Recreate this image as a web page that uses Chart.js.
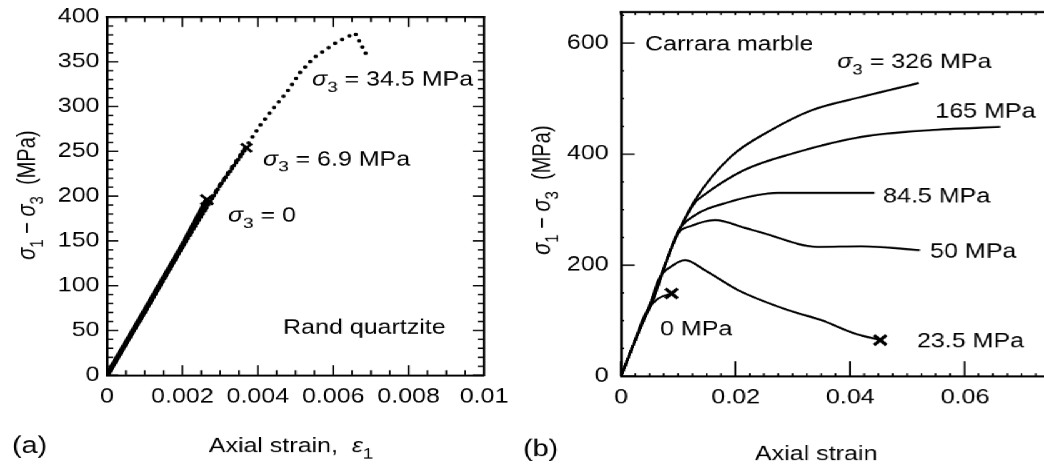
<!DOCTYPE html>
<html>
<head>
<meta charset="utf-8">
<script src="https://cdn.jsdelivr.net/npm/chart.js@4.4.1/dist/chart.umd.min.js"></script>
<style>
    html, body { margin: 0; padding: 0; background: #fff; overflow: hidden; }
    #stretch { position: absolute; left: 0; top: 0; width: 846px; height: 469px; transform: scaleX(1.25); transform-origin: 0 0; }
    #chart-a, #over-a { position: absolute; left: 0; top: 0; }
    #chart-b, #over-b { position: absolute; left: 416px; top: 0; }
    #over-a, #over-b { pointer-events: none; }
</style>
</head>
<body>
<div id="stretch">
    <canvas id="chart-a" width="416" height="469"></canvas>
    <canvas id="chart-b" width="430" height="469"></canvas>
    <canvas id="over-a"></canvas>
    <canvas id="over-b"></canvas>
</div>
<script>
const FONT = '"Liberation Sans", Arial, sans-serif';
const INK = '#000';
const RATIO = 1.25;

// (a) Rand quartzite
const quartzite0Strain = [0, 0.001, 0.002, 0.00265];
const quartzite0Stress = [0, 72, 145, 196];
const quartzite69Strain = [0, 0.001, 0.002, 0.003, 0.0037];
const quartzite69Stress = [0, 70, 143, 212, 254];
const quartzite345Strain = [0, 0.001, 0.002, 0.003, 0.0037, 0.00406, 0.00441, 0.00477, 0.00512, 0.00547, 0.00609, 0.00658, 0.00689];
const quartzite345Stress = [0, 71, 144, 213, 256, 279, 298, 316, 338, 354, 372, 382, 357];
const quartziteStrainTicks = ['0', '0.002', '0.004', '0.006', '0.008', '0.01'];
const quartziteStressTicks = ['0', '50', '100', '150', '200', '250', '300', '350', '400'];

// (b) Carrara marble
const marble0Strain = [0, 0.002, 0.0039, 0.0048, 0.0065, 0.0088];
const marble0Stress = [0, 53, 105, 122, 140, 149];
const marble235Strain = [0, 0.002, 0.0042, 0.0048, 0.0065, 0.0091, 0.0112, 0.0146, 0.0204, 0.0291, 0.0349, 0.0407, 0.0452];
const marble235Stress = [0, 53, 107, 119, 173, 200, 209, 191, 155, 119, 101, 77, 65];
const marble50Strain = [0, 0.002, 0.0042, 0.00535, 0.0082, 0.01, 0.0121, 0.0164, 0.0216, 0.0244, 0.0344, 0.0419, 0.0521];
const marble50Stress = [0, 53, 107, 131, 215, 258, 270, 281, 267, 259, 233, 234, 227];
const marble845Strain = [0, 0.002, 0.0042, 0.00535, 0.0082, 0.01, 0.0126, 0.0186, 0.0274, 0.0442];
const marble845Stress = [0, 53, 107, 131, 215, 262, 288, 313, 330, 330];
const marble165Strain = [0, 0.002, 0.0042, 0.0071, 0.0091, 0.0129, 0.0139, 0.0214, 0.0302, 0.0419, 0.0537, 0.0661];
const marble165Stress = [0, 53, 107, 185, 239, 313, 322, 371, 402, 431, 443, 449];
const marble326Strain = [0, 0.002, 0.0042, 0.0071, 0.0091, 0.0129, 0.0191, 0.0261, 0.0332, 0.0419, 0.0519];
const marble326Stress = [0, 53, 107, 185, 239, 317, 395, 443, 479, 503, 528];
const marbleStrainTicks = ['0', '0.02', '0.04', '0.06'];
const marbleStressTicks = ['0', '200', '400', '600'];

function toPoints(xs, ys) {
    return xs.map((x, i) => ({ x: x, y: ys[i] }));
}

// x marker only on the last point of a curve
function lastPointRadius(size) {
    return function (ctx) {
        return ctx.dataIndex === ctx.dataset.data.length - 1 ? size : 0;
    };
}

const sigma = n => [{ t: 'σ', i: true }, { t: n, s: true }];

function drawRich(ctx, parts, x, y, size, align, rotate) {
    ctx.save();
    ctx.translate(x, y);
    if (rotate) ctx.rotate(rotate);
    ctx.fillStyle = INK;
    ctx.textBaseline = 'alphabetic';
    const fontFor = p => (p.i ? 'italic ' : '') + Math.round(p.s ? size * 0.75 : size) + 'px ' + FONT;
    let total = 0;
    parts.forEach(p => { ctx.font = fontFor(p); total += ctx.measureText(p.t).width; });
    let cx = align === 'center' ? -total / 2 : 0;
    parts.forEach(p => {
        ctx.font = fontFor(p);
        ctx.fillText(p.t, cx, p.s ? size * 0.3 : 0);
        cx += ctx.measureText(p.t).width;
    });
    ctx.restore();
}

// frame and inward ticks on a plain overlay canvas, placed with the chart's scales
function drawOverlay(chart, canvas, cfg) {
    canvas.width = Math.round(chart.width * RATIO);
    canvas.height = Math.round(chart.height * RATIO);
    canvas.style.width = chart.width + 'px';
    canvas.style.height = chart.height + 'px';
    const ctx = canvas.getContext('2d');
    ctx.setTransform(RATIO, 0, 0, RATIO, 0, 0);
    const a = chart.chartArea;
    const w = 1.4;
    ctx.fillStyle = INK;
    if (cfg.top) ctx.fillRect(a.left - 1, a.top - 1, a.right - a.left + 2, 2);
    if (cfg.right) ctx.fillRect(a.right - 1, a.top - 1, 2, a.bottom - a.top + 2);
    cfg.sides.forEach(function (side) {
        const horizontal = side.pos === 'bottom' || side.pos === 'top';
        const scale = horizontal ? chart.scales.x : chart.scales.y;
        const n = Math.floor(scale.max / side.minor + 1e-6);
        for (let i = 0; i <= n; i++) {
            const v = i * side.minor;
            const r = v / side.major;
            const len = Math.abs(r - Math.round(r)) < 1e-6 ? side.majorLen : side.minorLen;
            const p = scale.getPixelForValue(v);
            if (side.pos === 'bottom') ctx.fillRect(p - w / 2, a.bottom - len, w, len);
            if (side.pos === 'top') ctx.fillRect(p - w / 2, a.top, w, len);
            if (side.pos === 'left') ctx.fillRect(a.left, p - w / 2, len, w);
            if (side.pos === 'right') ctx.fillRect(a.right - len, p - w / 2, len, w);
        }
    });
}

// texts placed in data units or in canvas pixels
function makeTexts(items) {
    return {
        id: 'texts',
        afterDraw(chart) {
            const { x, y } = chart.scales;
            for (const item of items) {
                const px = item.data ? x.getPixelForValue(item.x) : item.x;
                const py = item.data ? y.getPixelForValue(item.y) : item.y;
                drawRich(chart.ctx, item.parts, px, py, item.size || 20, item.align, item.rotate);
            }
        }
    };
}

Chart.defaults.font.family = FONT;
Chart.defaults.font.size = 20;
Chart.defaults.color = INK;

function axis(min, max, step, labels, size, padding) {
    return {
        type: 'linear',
        min: min,
        max: max,
        afterFit: function (s) {
            if (s.isHorizontal()) s.height = size; else s.width = size;
            s.paddingTop = 0;
            s.paddingBottom = 0;
            s.paddingLeft = 0;
            s.paddingRight = 0;
        },
        grid: { display: false, drawTicks: false },
        border: { display: true, color: INK, width: 2 },
        ticks: {
            stepSize: step,
            includeBounds: false,
            autoSkip: false,
            maxRotation: 0,
            padding: padding,
            color: INK,
            font: { size: 20 },
            callback: function (value, index) { return labels[index]; }
        }
    };
}

const baseOptions = {
    responsive: false,
    animation: false,
    devicePixelRatio: RATIO,
    plugins: { legend: { display: false }, tooltip: { enabled: false } }
};

const dotted = (data, width, gap, offset, size) => ({
    data: data,
    showLine: true,
    borderColor: INK,
    borderWidth: width,
    borderDash: [0, gap],
    borderDashOffset: offset,
    borderCapStyle: 'round',
    pointStyle: 'crossRot',
    pointBorderColor: INK,
    pointBorderWidth: 2.5,
    pointRadius: size ? lastPointRadius(size) : 0
});

const chartA = new Chart(document.getElementById('chart-a'), {
    type: 'scatter',
    data: {
        datasets: [
            dotted(toPoints(quartzite345Strain, quartzite345Stress), 3.6, 6.8, 0, 0),
            dotted(toPoints(quartzite69Strain, quartzite69Stress), 3.8, 3.4, 1.7, 6),
            dotted(toPoints(quartzite0Strain, quartzite0Stress), 4.6, 2.2, 1, 7)
        ]
    },
    options: Object.assign({}, baseOptions, {
        layout: { padding: { top: 17, right: 28.8, left: 0, bottom: 0 } },
        scales: {
            x: axis(0, 0.01, 0.002, quartziteStrainTicks, 94, 10),
            y: axis(0, 400, 50, quartziteStressTicks, 85.6, 6)
        }
    }),
    plugins: [
        makeTexts([
            { data: true, x: 0.00544, y: 323, parts: sigma('3').concat([{ t: ' = 34.5 MPa' }]) },
            { data: true, x: 0.00414, y: 234, parts: sigma('3').concat([{ t: ' = 6.9 MPa' }]) },
            { data: true, x: 0.00321, y: 171, parts: sigma('3').concat([{ t: ' = 0' }]) },
            { data: true, x: 0.00467, y: 46, parts: [{ t: 'Rand quartzite' }] },
            { x: 232.8, y: 452, align: 'center', parts: [{ t: 'Axial strain,  ' }, { t: 'ε', i: true }, { t: '1', s: true }] },
            { x: 9.6, y: 453, size: 23, parts: [{ t: '(a)' }] },
            { x: 28, y: 195, align: 'center', rotate: -Math.PI / 2, parts: sigma('1').concat([{ t: ' − ' }], sigma('3'), [{ t: '  (MPa)' }]) }
        ])
    ]
});

drawOverlay(chartA, document.getElementById('over-a'), {
    top: true, right: true,
    sides: [
        { pos: 'bottom', minor: 0.0005, major: 0.002, minorLen: 5, majorLen: 10 },
        { pos: 'top', minor: 0.0005, major: 0.002, minorLen: 5, majorLen: 10 },
        { pos: 'left', minor: 10, major: 50, minorLen: 5, majorLen: 9 },
        { pos: 'right', minor: 10, major: 50, minorLen: 5, majorLen: 9 }
    ]
});

const solid = (data, withMark) => ({
    data: data,
    showLine: true,
    borderColor: INK,
    borderWidth: 2,
    cubicInterpolationMode: 'monotone',
    pointStyle: 'crossRot',
    pointBorderColor: INK,
    pointBorderWidth: 3,
    pointRadius: withMark ? lastPointRadius(7) : 0
});

const chartB = new Chart(document.getElementById('chart-b'), {
    type: 'scatter',
    data: {
        datasets: [
            solid(toPoints(marble326Strain, marble326Stress), false),
            solid(toPoints(marble165Strain, marble165Stress), false),
            solid(toPoints(marble845Strain, marble845Stress), false),
            solid(toPoints(marble50Strain, marble50Stress), false),
            solid(toPoints(marble235Strain, marble235Stress), true),
            solid(toPoints(marble0Strain, marble0Stress), true)
        ]
    },
    options: Object.assign({}, baseOptions, {
        layout: { padding: { top: 12, right: 10, left: 0, bottom: 0 } },
        scales: {
            x: axis(0, 0.074, 0.02, marbleStrainTicks, 93, 10),
            y: axis(0, 656, 200, marbleStressTicks, 80.8, 10)
        }
    }),
    plugins: [
        makeTexts([
            { data: true, x: 0.0042, y: 587, parts: [{ t: 'Carrara marble' }] },
            { data: true, x: 0.0377, y: 555, parts: sigma('3').concat([{ t: ' = 326 MPa' }]) },
            { data: true, x: 0.0548, y: 465, parts: [{ t: '165 MPa' }] },
            { data: true, x: 0.0457, y: 313, parts: [{ t: '84.5 MPa' }] },
            { data: true, x: 0.0539, y: 214, parts: [{ t: '50 MPa' }] },
            { data: true, x: 0.0068, y: 74, parts: [{ t: '0 MPa' }] },
            { data: true, x: 0.0516, y: 52, parts: [{ t: '23.5 MPa' }] },
            { x: 236.8, y: 460, align: 'center', parts: [{ t: 'Axial strain' }] },
            { x: 2.4, y: 456, size: 23, parts: [{ t: '(b)' }] },
            { x: 24, y: 190, align: 'center', rotate: -Math.PI / 2, parts: sigma('1').concat([{ t: ' − ' }], sigma('3'), [{ t: '  (MPa)' }]) }
        ])
    ]
});

drawOverlay(chartB, document.getElementById('over-b'), {
    top: true, right: false,
    sides: [
        { pos: 'bottom', minor: 0.0025, major: 0.02, minorLen: 3, majorLen: 15 },
        { pos: 'top', minor: 0.0025, major: 0.02, minorLen: 3, majorLen: 3 },
        { pos: 'left', minor: 50, major: 200, minorLen: 2.5, majorLen: 11 }
    ]
});
</script>
</body>
</html>
